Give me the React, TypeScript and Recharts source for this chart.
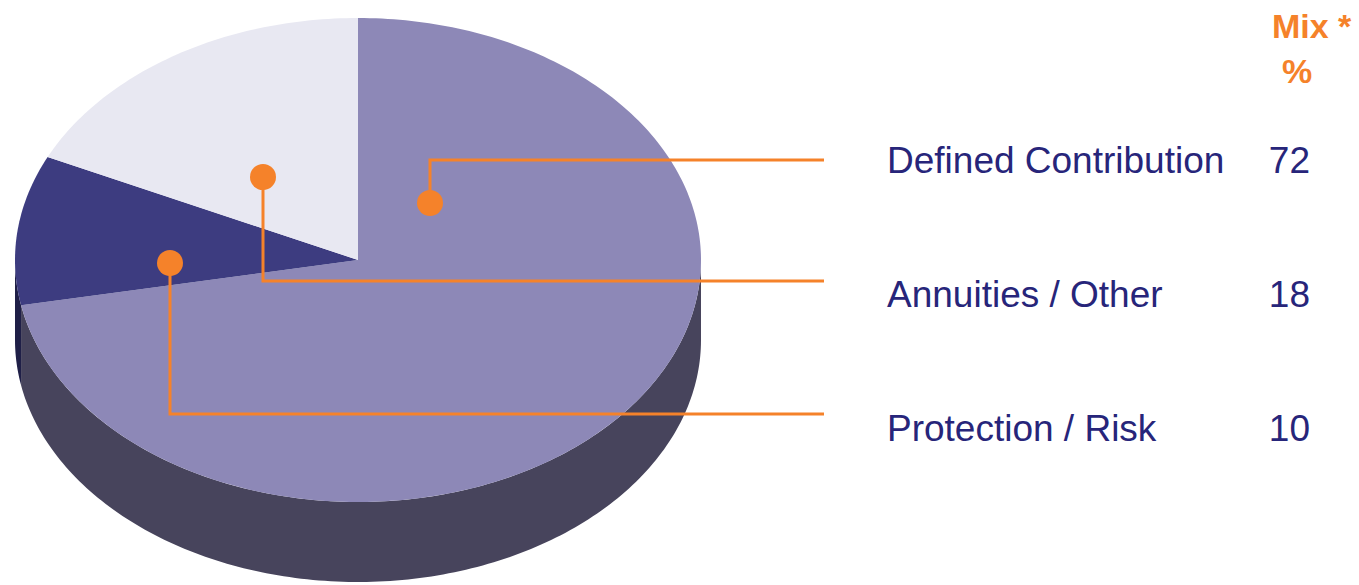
import React from "react";
import { PieChart, Pie, Cell } from "recharts";

// slices, clockwise from 12 o'clock
const segments = ["Defined Contribution", "Protection / Risk", "Annuities / Other"];
const mixValues = [72, 10, 18];

// right-hand list, top to bottom
const listNames = ["Defined Contribution", "Annuities / Other", "Protection / Risk"];
const listValues = [72, 18, 10];

const topColors: Record<string, string> = {
  "Defined Contribution": "#8D88B7",
  "Protection / Risk": "#3D3C80",
  "Annuities / Other": "#E8E8F2",
};
const sideColors: Record<string, string> = {
  "Defined Contribution": "#47445C",
  "Protection / Risk": "#1F1F47",
  "Annuities / Other": "#B8B8C8",
};

const data = segments.map((name, i) => ({ name, value: mixValues[i] }));

const ORANGE = "#F5822A";
const NAVY = "#27257A";
const TILT = 242 / 343;
const DEPTH = 80;

// callout layout (dot placed on the slice, elbow to the row line)
const callouts = [
  { name: "Defined Contribution", dot: [430, 203], lineY: 160, baseline: 173 },
  { name: "Annuities / Other", dot: [263, 177], lineY: 281, baseline: 307 },
  { name: "Protection / Risk", dot: [170, 263], lineY: 414, baseline: 441 },
];

const onEllipse = (cx: number, cy: number, rx: number, ry: number, deg: number) => {
  const a = (deg * Math.PI) / 180;
  return [cx + rx * Math.cos(a), cy - ry * Math.sin(a)];
};

const arc = (cx: number, cy: number, rx: number, ry: number, from: number, to: number) => {
  const n = Math.max(2, Math.ceil(Math.abs(to - from)));
  const pts: number[][] = [];
  for (let i = 0; i <= n; i++) pts.push(onEllipse(cx, cy, rx, ry, from + ((to - from) * i) / n));
  return pts;
};

const ElipseSector = (props: any) => {
  const { cx, cy, outerRadius, startAngle, endAngle, fill, payload, name } = props;
  const key = (payload && payload.name) || name;
  const rx = outerRadius;
  const ry = outerRadius * TILT;

  const top = arc(cx, cy, rx, ry, startAngle, endAngle);
  const topPath =
    `M${cx},${cy} ` + top.map((p) => `L${p[0].toFixed(2)},${p[1].toFixed(2)}`).join(" ") + " Z";

  // visible side = the part of the rim in the front (lower) half
  const lo = Math.min(startAngle, endAngle);
  const hi = Math.max(startAngle, endAngle);
  const sides: string[] = [];
  for (let k = -2; k <= 1; k++) {
    const a = Math.max(lo, -180 + 360 * k);
    const b = Math.min(hi, 360 * k);
    if (b - a <= 0.01) continue;
    const upper = arc(cx, cy, rx, ry, a, b);
    const lower = upper.map((p) => [p[0], p[1] + DEPTH]).reverse();
    const all = upper.concat(lower);
    sides.push(
      all.map((p, i) => `${i === 0 ? "M" : "L"}${p[0].toFixed(2)},${p[1].toFixed(2)}`).join(" ") + " Z"
    );
  }

  return (
    <g>
      {sides.map((d, i) => (
        <path key={i} d={d} fill={sideColors[key] || "#47445C"} />
      ))}
      <path d={topPath} fill={fill} />
    </g>
  );
};

export default function App() {
  return (
    <div style={{ position: "relative", width: 1359, height: 585, background: "#fff" }}>
      <style>{`body{margin:0}`}</style>
      <PieChart width={1359} height={585} margin={{ top: 0, right: 0, bottom: 0, left: 0 }}>
        <Pie
          data={data}
          dataKey="value"
          nameKey="name"
          cx={358}
          cy={260}
          outerRadius={343}
          startAngle={90}
          endAngle={-270}
          stroke="none"
          isAnimationActive={false}
          shape={ElipseSector}
          inactiveShape={ElipseSector}
          activeShape={ElipseSector}
        >
          {data.map((d) => (
            <Cell key={d.name} fill={topColors[d.name]} />
          ))}
        </Pie>
      </PieChart>
      <svg
        width={1359}
        height={585}
        style={{ position: "absolute", left: 0, top: 0, pointerEvents: "none" }}
        fontFamily="'Liberation Sans', Arial, sans-serif"
      >
        {callouts.map((c) => (
          <g key={c.name}>
            <polyline
              points={`${c.dot[0]},${c.dot[1]} ${c.dot[0]},${c.lineY} 824,${c.lineY}`}
              fill="none"
              stroke={ORANGE}
              strokeWidth={3}
            />
            <circle cx={c.dot[0]} cy={c.dot[1]} r={13} fill={ORANGE} />
          </g>
        ))}
        <text x={1272} y={38} fill={ORANGE} fontSize={34} fontWeight="bold">
          Mix *
        </text>
        <text x={1282} y={83} fill={ORANGE} fontSize={34} fontWeight="bold">
          %
        </text>
        {listNames.map((name, i) => {
          const c = callouts.find((o) => o.name === name)!;
          return (
            <g key={name}>
              <text x={887} y={c.baseline} fill={NAVY} fontSize={37}>
                {name}
              </text>
              <text x={1310} y={c.baseline} fill={NAVY} fontSize={37} textAnchor="end">
                {listValues[i]}
              </text>
            </g>
          );
        })}
      </svg>
    </div>
  );
}
